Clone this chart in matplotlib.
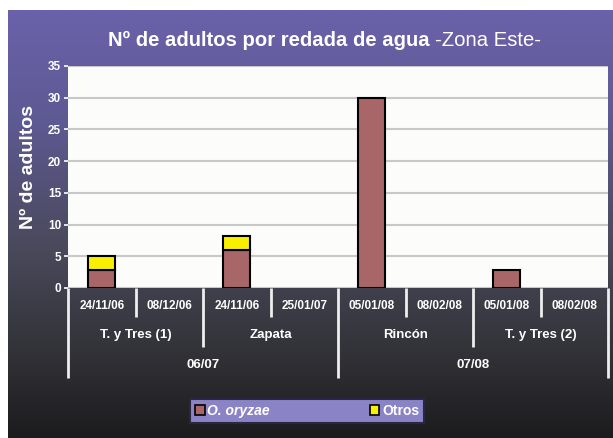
import numpy as np
import matplotlib as mpl
mpl.use('agg')
import matplotlib.pyplot as plt
from matplotlib.patches import Patch
from matplotlib.colors import LinearSegmentedColormap
import matplotlib.transforms as mtransforms

fechas = ['24/11/06', '08/12/06', '24/11/06', '25/01/07',
          '05/01/08', '08/02/08', '05/01/08', '08/02/08']
sitios = ['T. y Tres (1)', 'Zapata', 'Rincón', 'T. y Tres (2)']
zafras = ['06/07', '07/08']
oryzae = [2.8, 0, 6, 0, 30, 0, 2.9, 0]
otros = [2.2, 0, 2.2, 0, 0, 0, 0, 0]

fam = ['Liberation Sans', 'DejaVu Sans']

W, H = 613, 438
fig = plt.figure(figsize=(W / 100, H / 100), dpi=100)
fig.patch.set_facecolor('white')

# fondo del panel: degradado violeta -> negro
bg = fig.add_axes([8 / W, 0, 1 - 8 / W, 1 - 10 / H])
cmap = LinearSegmentedColormap.from_list('bg', [
    (0.0, '#6a62aa'), (0.25, '#5e5a94'), (0.55, '#4a4a5c'),
    (0.8, '#323238'), (1.0, '#1c1c1e')])
grad = np.linspace(0, 1, 256).reshape(-1, 1)
bg.imshow(grad, aspect='auto', cmap=cmap, extent=[0, 1, 1, 0])
bg.set_axis_off()

ax = fig.add_axes([68 / W, 1 - 288 / H, (608 - 68) / W, (288 - 66) / H])
ax.set_facecolor('#fcfcfa')
x = np.arange(len(fechas))
ory = np.array(oryzae)
otr = np.array(otros)
m1 = ory > 0
m2 = otr > 0
ax.bar(x[m1], ory[m1], width=0.4, color='#a86668', edgecolor='black', linewidth=1.5, zorder=3)
ax.bar(x[m2], otr[m2], width=0.4, bottom=ory[m2], color='#f8f000', edgecolor='black',
       linewidth=1.5, zorder=3)
ax.set_xlim(-0.5, 7.5)
ax.set_ylim(0, 35)
ax.set_yticks(range(0, 36, 5))
ax.yaxis.grid(True, color='#c8c8c8', linewidth=1.5, zorder=0)
ax.set_xticks([])
for s in ax.spines.values():
    s.set_visible(False)
ax.tick_params(axis='y', colors='white', length=3, width=1.2, pad=2)
for t in ax.get_yticklabels():
    t.set_fontfamily(fam)
    t.set_fontweight('bold')
    t.set_fontsize(8.5)
    t.set_color('white')

ax.set_ylabel('Nº de adultos', color='white', fontsize=14, fontweight='bold', family=fam)
ax.yaxis.set_label_coords(-0.058, 0.545)

tt = fig.text(108 / W, 1 - 40 / H, 'Nº de adultos por redada de agua ', color='white',
              fontsize=14.6, fontweight='bold', family=fam, ha='left', va='center')
fig.canvas.draw()
bb = tt.get_window_extent()
fig.text(bb.x1 / W, 1 - 40 / H, '-Zona Este-', color='white', fontsize=14.6,
         family=fam, ha='left', va='center')

# eje de categorías jerárquico
tr = mtransforms.blended_transform_factory(ax.transData, ax.transAxes)
for i, f in enumerate(fechas):
    ax.text(i, -0.081, f, transform=tr, ha='center', va='center', color='white',
            fontsize=8.5, fontweight='bold', family=fam)
for j, s in enumerate(sitios):
    ax.text(2 * j + 0.5, -0.212, s, transform=tr, ha='center', va='center',
            color='white', fontsize=9.5, fontweight='bold', family=fam)
for k, z in enumerate(zafras):
    ax.text(4 * k + 1.5, -0.347, z, transform=tr, ha='center', va='center',
            color='white', fontsize=9.5, fontweight='bold', family=fam)

sep = [(0.5, -0.13), (2.5, -0.13), (4.5, -0.13), (6.5, -0.13),
       (1.5, -0.266), (5.5, -0.266),
       (-0.5, -0.405), (3.5, -0.405), (7.5, -0.405)]
for xs, ys in sep:
    ax.plot([xs, xs], [0, ys], transform=tr, color='#eeeeee', linewidth=2,
            clip_on=False, solid_capstyle='butt')

handles = [Patch(facecolor='#a86668', edgecolor='black', linewidth=1.2, label='O. oryzae'),
           Patch(facecolor='#f8f000', edgecolor='black', linewidth=1.2, label='Otros')]
leg = fig.legend(handles=handles, loc='lower left', ncol=2, mode='expand',
                 bbox_to_anchor=(190 / W, 1 - 423 / H, 234 / W, 26 / H),
                 frameon=True, fancybox=False, borderaxespad=0,
                 handlelength=0.7, handleheight=0.7, handletextpad=0.2,
                 borderpad=0.35, prop={'family': fam, 'weight': 'bold', 'size': 10})
leg.get_frame().set_facecolor('#8a84c6')
leg.get_frame().set_edgecolor('#2a2840')
leg.get_frame().set_linewidth(1.5)
leg.get_frame().set_alpha(1)
for t in leg.get_texts():
    t.set_color('white')
leg.get_texts()[0].set_fontstyle('italic')

fig.savefig('out.png', dpi=100)
